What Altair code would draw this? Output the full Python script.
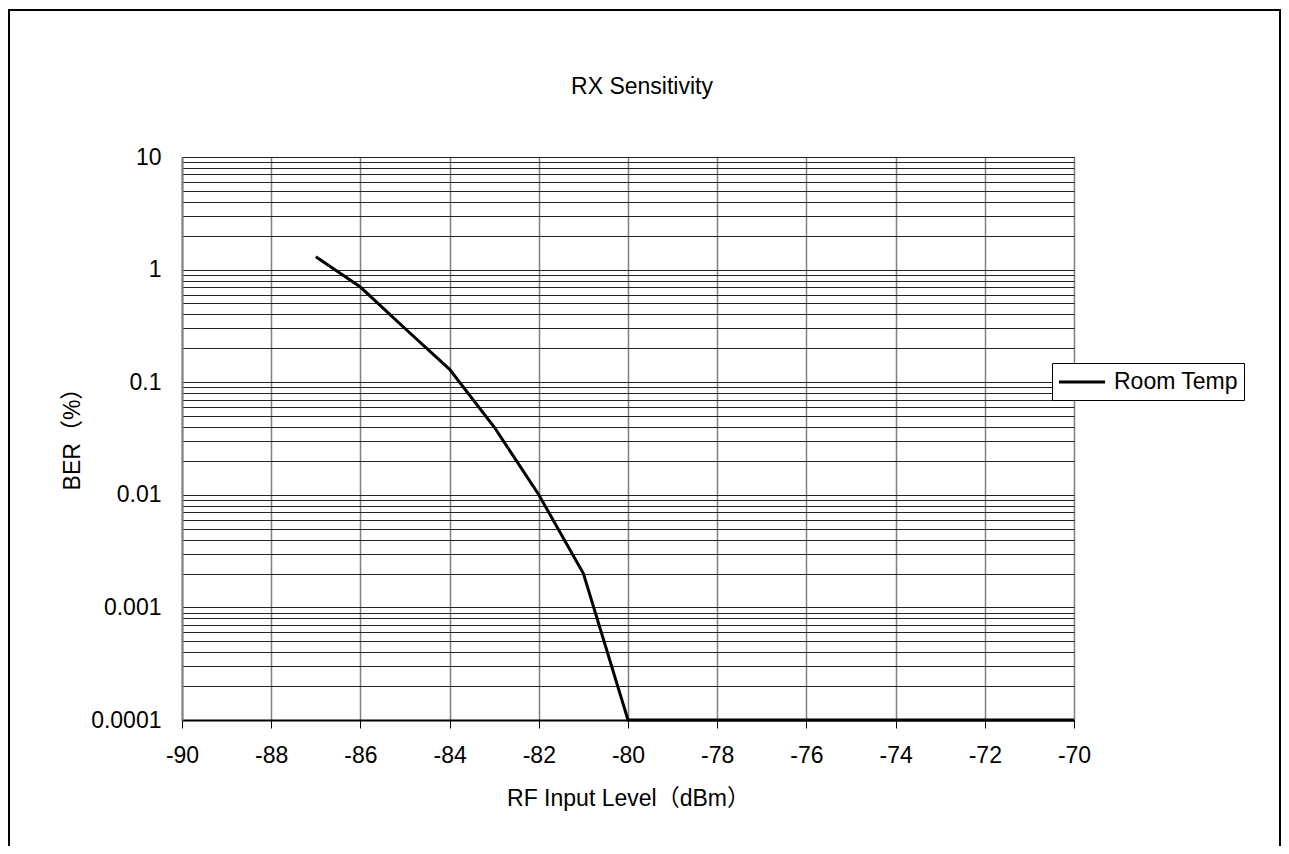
import altair as alt
import pandas as pd

# ---- data ----
rf_level = [-87, -86, -85, -84, -83, -82, -81, -80, -79, -78, -77, -76, -75, -74, -73, -72, -71, -70]
ber_pct = [1.3, 0.7, 0.3, 0.13, 0.04, 0.01, 0.002, 0.0001, 0.0001, 0.0001,
           0.0001, 0.0001, 0.0001, 0.0001, 0.0001, 0.0001, 0.0001, 0.0001]
series_name = "Room Temp"

x_ticks = [-90, -88, -86, -84, -82, -80, -78, -76, -74, -72, -70]
y_labels = [0.0001, 0.001, 0.01, 0.1, 1, 10]
y_grid = [float(f"{k}e{d}") for d in range(-4, 1) for k in range(1, 10)] + [10.0]

FONT = "Liberation Sans, Arial, Noto Sans CJK SC, sans-serif"
FS = 23

df = pd.DataFrame({"rf": rf_level, "ber": ber_pct, "series": [series_name] * len(rf_level)})

line = alt.Chart(df).mark_line(strokeWidth=3).encode(
    x=alt.X(
        "rf:Q",
        title="RF Input Level（dBm）",
        scale=alt.Scale(domain=[-90, -70], nice=False, zero=False),
        axis=alt.Axis(
            values=x_ticks, labelExpr="'' + datum.value", grid=True, gridColor="#808080", gridWidth=1.5,
            domainColor="black", domainWidth=2, tickColor="black", tickSize=8, tickWidth=1,
            labelPadding=16, labelFlush=False, titlePadding=20,
        ),
    ),
    y=alt.Y(
        "ber:Q",
        title="BER（%）",
        scale=alt.Scale(type="log", domain=[0.0001, 10], nice=False),
        axis=alt.Axis(
            values=y_grid, format="~g",
            labelExpr="indexof(%s, datum.value) >= 0 ? datum.label : ''" % str(y_labels),
            labelOverlap=False, grid=True, gridColor="#222222", gridWidth=1,
            ticks=False, domainColor="#808080", domainWidth=2,
            labelPadding=21, titlePadding=6, titleY=276,
        ),
    ),
    color=alt.Color(
        "series:N",
        scale=alt.Scale(range=["black"]),
        legend=alt.Legend(
            title=None, orient="none", legendX=870, legendY=206,
            symbolType="M-2,0H2", symbolSize=529, symbolStrokeWidth=3,
            symbolOffset=11,
            labelFontSize=FS, labelFont=FONT, labelColor="black", labelOffset=19,
            strokeColor="black", fillColor="white", padding=6,
        ),
    ),
)

border = alt.Chart(alt.Data(values=[{"a": 1}])).mark_rect(
    fillOpacity=0, stroke="black", strokeWidth=2
).encode(
    x=alt.value(-173), x2=alt.value(1098), y=alt.value(-147), y2=alt.value(760)
)

chart = alt.layer(border, line).properties(
    width=892,
    height=563,
    padding={"left": 174, "top": 149, "right": 207, "bottom": 126},
    autosize=alt.AutoSizeParams(type="none"),
    title=alt.Title(
        "RX Sensitivity", fontSize=FS, fontWeight="normal", font=FONT, color="black",
        anchor="middle", frame="group", offset=0, dy=108, dx=14, baseline="alphabetic",
    ),
).configure_axis(
    labelFont=FONT, titleFont=FONT, labelFontSize=FS, titleFontSize=FS,
    titleFontWeight="normal", labelColor="black", titleColor="black",
).configure_view(stroke="black", strokeWidth=1)

chart.save("out.html", embed_options={"renderer": "svg", "actions": False})
